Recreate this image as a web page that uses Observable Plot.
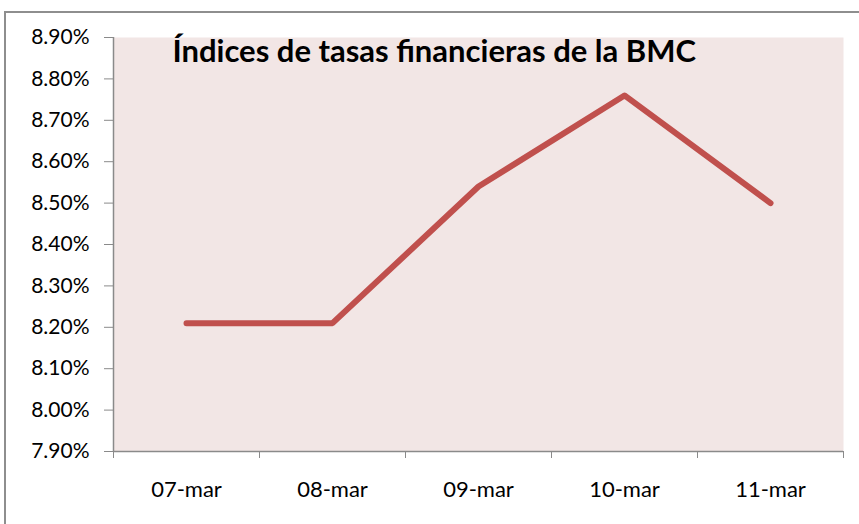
<!DOCTYPE html>
<html><head><meta charset="utf-8">
<script src="https://cdn.jsdelivr.net/npm/d3@7"></script>
<script src="https://cdn.jsdelivr.net/npm/@observablehq/plot@0.6"></script>
<style>
body{margin:0;background:#fff;}
#wrap{position:relative;width:859px;height:524px;overflow:hidden;}
#border{position:absolute;left:4px;top:11px;width:900px;height:600px;border:2px solid #8e8e8e;box-sizing:border-box;}
#wrap svg{position:absolute;left:0;top:0;}
</style></head><body><div id="wrap"><div id="border"></div></div>
<script>
const title = "Índices de tasas financieras de la BMC";
const categories = ["07-mar","08-mar","09-mar","10-mar","11-mar"];
const values = [8.21, 8.21, 8.54, 8.76, 8.50];
const yTicks = [7.9, 8.0, 8.1, 8.2, 8.3, 8.4, 8.5, 8.6, 8.7, 8.8, 8.9];

const data = categories.map((c, i) => ({i, c, v: values[i]}));
const centers = categories.map((c, i) => i);
const boundaries = categories.map((c, i) => i - 0.5).concat([categories.length - 0.5]);
const axisGray = "#8a8a8a";

const chart = Plot.plot({
  width: 859,
  height: 524,
  marginLeft: 113,
  marginRight: 16,
  marginTop: 37,
  marginBottom: 73,
  style: {fontFamily: "Lato, sans-serif", background: "transparent", color: "#000"},
  x: {domain: [-0.5, categories.length - 0.5]},
  y: {domain: [yTicks[0], yTicks[yTicks.length - 1]]},
  marks: [
    Plot.frame({fill: "#f2e6e5", stroke: null}),
    Plot.axisY({ticks: yTicks, tickSize: 9, tickPadding: 15, tickFormat: d => d.toFixed(2) + "%", fontSize: 21, stroke: axisGray, fill: "#000", label: null}),
    Plot.axisX({ticks: boundaries, tickSize: 7, tickFormat: () => "", stroke: axisGray, label: null}),
    Plot.axisX({ticks: centers, tickSize: 0, tickPadding: 30, tickFormat: i => categories[i], fontSize: 22, fill: "#000", label: null}),
    Plot.ruleX([boundaries[0]], {stroke: axisGray, strokeWidth: 1.5}),
    Plot.ruleY([yTicks[0]], {stroke: axisGray, strokeWidth: 1.5}),
    Plot.lineY(data, {x: "i", y: "v", stroke: "#c0504d", strokeWidth: 6, strokeLinejoin: "round"}),
    Plot.text([title], {frameAnchor: "top-left", dx: 59, dy: 2, fontSize: 31, fontWeight: "bold", textAnchor: "start", lineAnchor: "top", fill: "#000"})
  ]
});
document.getElementById("wrap").appendChild(chart);
</script>
</body></html>
